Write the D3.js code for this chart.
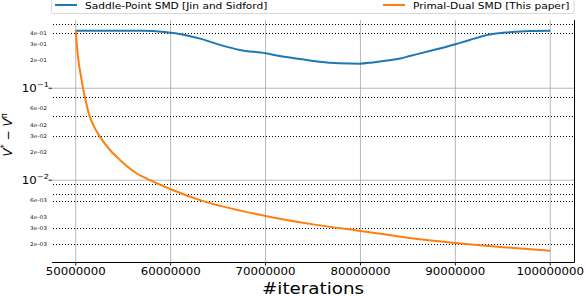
<!DOCTYPE html>
<html>
<head>
<meta charset="utf-8">
<script src="https://cdn.jsdelivr.net/npm/d3@7"></script>
<style>
  body { margin: 0; background: #fff; }
  svg { display: block; font-family: "DejaVu Sans", sans-serif; }
</style>
</head>
<body>
<div id="chart"></div>
<script>
// series
const saddleIter = [50e6, 57.1e6, 59.4e6, 60.5e6, 63.1e6, 65.2e6, 67.3e6, 70e6, 71.5e6, 73.6e6,
   75.7e6, 77.8e6, 79.9e6, 81.3e6, 82.8e6, 84.2e6, 85.2e6, 87.3e6, 90e6, 91.5e6, 93.6e6,
   95.7e6, 97.8e6, 100e6];
const saddleGap = [0.423, 0.423, 0.409, 0.396, 0.346, 0.296, 0.261, 0.240, 0.224, 0.208,
   0.194, 0.187, 0.185, 0.191, 0.200, 0.211, 0.224, 0.254, 0.301, 0.335, 0.383,
   0.406, 0.420, 0.423];

const primalIter = [50e6, 50.08e6, 50.19e6, 50.35e6, 50.56e6, 50.77e6, 50.98e6, 51.45e6, 51.93e6,
   52.56e6, 53.61e6, 54.66e6, 56.24e6, 57.82e6, 60e6, 63.1e6, 70e6, 75e6, 80e6,
   85e6, 90e6, 95e6, 100e6];
const primalGap = [0.423, 0.335, 0.242, 0.179, 0.133, 0.1, 0.0791, 0.05, 0.0383,
   0.0296, 0.0213, 0.0166, 0.0122, 0.01, 0.00798, 0.00607, 0.00409, 0.00331, 0.00281,
   0.00237, 0.00208, 0.00187, 0.00171];

const seriesNames = ['Saddle-Point SMD [Jin and Sidford]', 'Primal-Dual SMD [This paper]'];
const xTicks = [50e6, 60e6, 70e6, 80e6, 90e6, 100e6];
const yMajor = [0.1, 0.01];
const yMajorLabels = [['10', '\u22121'], ['10', '\u22122']];
const yMinor = [0.4, 0.3, 0.2, 0.06, 0.04, 0.03, 0.02, 0.006, 0.004, 0.003, 0.002];
const yMinorLabels = ['4e-01', '3e-01', '2e-01', '6e-02', '4e-02', '3e-02', '2e-02',
   '6e-03', '4e-03', '3e-03', '2e-03'];
const dottedLevels = [0.5, 0.4, 0.08, 0.05, 0.03, 0.009, 0.007, 0.006, 0.003, 0.002];

const W = 586, H = 296;
const L = 52, R = 574, T = 20, B = 262;
const SX = 1.18; // text in the picture is a bit wide

const svg = d3.select('#chart').append('svg')
   .attr('width', W)
   .attr('height', H);

const x = d3.scaleLinear().domain([47.5e6, 102.5e6]).range([L, R]);
const y = d3.scaleLog().domain([0.00129, 0.552]).range([B, T]);

function addText(g, x0, y0, size, anchor) {
   return g.append('text')
      .attr('transform', `translate(${x0},${y0}) scale(${SX},1)`)
      .attr('font-size', size)
      .attr('text-anchor', anchor || 'start')
      .attr('fill', '#000');
}

// grid
const grid = svg.append('g');
grid.selectAll('line.vx')
   .data(xTicks)
   .enter()
   .append('line')
   .attr('x1', d => x(d)).attr('x2', d => x(d))
   .attr('y1', T).attr('y2', B)
   .attr('stroke', '#b0b0b0').attr('stroke-width', 0.9);
grid.selectAll('line.hy')
   .data(yMajor)
   .enter()
   .append('line')
   .attr('x1', L).attr('x2', R)
   .attr('y1', d => y(d)).attr('y2', d => y(d))
   .attr('stroke', '#b0b0b0').attr('stroke-width', 0.9);
grid.selectAll('line.dot')
   .data(dottedLevels)
   .enter()
   .append('line')
   .attr('x1', L + 1).attr('x2', R - 1)
   .attr('y1', d => Math.round(y(d)) + 0.5).attr('y2', d => Math.round(y(d)) + 0.5)
   .attr('stroke', '#000').attr('stroke-width', 1)
   .attr('stroke-dasharray', '1,2');

// lines
const line = d3.line()
   .x(d => x(d[0]))
   .y(d => y(d[1]))
   .curve(d3.curveMonotoneX);

svg.append('path')
   .datum(saddleIter.map((v, i) => [v, saddleGap[i]]))
   .attr('d', line)
   .attr('fill', 'none')
   .attr('stroke', '#1f77b4')
   .attr('stroke-width', 2);

svg.append('path')
   .datum(primalIter.map((v, i) => [v, primalGap[i]]))
   .attr('d', line)
   .attr('fill', 'none')
   .attr('stroke', '#ff7f0e')
   .attr('stroke-width', 2);

// spines
svg.append('line').attr('x1', L).attr('x2', R + 0.5).attr('y1', B + 0.5).attr('y2', B + 0.5)
   .attr('stroke', '#000').attr('stroke-width', 1);
svg.append('line').attr('x1', R + 0.5).attr('x2', R + 0.5).attr('y1', T).attr('y2', B + 0.5)
   .attr('stroke', '#000').attr('stroke-width', 1);

// x ticks
const xt = svg.append('g');
xTicks.forEach(t => {
   xt.append('line').attr('x1', x(t)).attr('x2', x(t)).attr('y1', B).attr('y2', B + 3.5)
      .attr('stroke', '#000').attr('stroke-width', 0.9);
   addText(xt, x(t), 275, 10, 'middle').text(d3.format('d')(t));
});
addText(svg, (L + R) / 2, 293.5, 15.5, 'middle').text('#iterations');

// y ticks
const yt = svg.append('g');
yMajor.forEach((v, i) => {
   yt.append('line').attr('x1', L - 3.5).attr('x2', L).attr('y1', y(v)).attr('y2', y(v))
      .attr('stroke', '#000').attr('stroke-width', 0.9);
   const t = addText(yt, 49, y(v) + 3.7, 10, 'end');
   t.append('tspan').text(yMajorLabels[i][0]);
   t.append('tspan').attr('font-size', 7).attr('dy', -4.5).text(yMajorLabels[i][1]);
});
yMinor.forEach((v, i) => {
   addText(yt, 47, y(v) + 1.8, 5, 'end').attr('fill', '#222').text(yMinorLabels[i]);
});

// y title
const ylab = svg.append('text')
   .attr('transform', 'translate(12,135) rotate(-90)')
   .attr('text-anchor', 'middle')
   .attr('font-size', 12);
ylab.append('tspan').attr('font-style', 'italic').text('V');
ylab.append('tspan').attr('font-size', 8).attr('dy', -5).text('*');
ylab.append('tspan').attr('dy', 5).text(' \u2212 ');
ylab.append('tspan').attr('font-style', 'italic').text('V');
ylab.append('tspan').attr('font-size', 8).attr('dy', -5).text('\u03c0');

// legend
const leg = svg.append('g');
leg.append('rect')
   .attr('x', 51.5).attr('y', -10).attr('width', 522.5).attr('height', 23.5)
   .attr('rx', 2)
   .attr('fill', '#fff').attr('fill-opacity', 0.8)
   .attr('stroke', '#d8d8d8');
const legItems = [
   { name: seriesNames[0], color: '#1f77b4', x0: 55 },
   { name: seriesNames[1], color: '#ff7f0e', x0: 383 }
];
legItems.forEach(it => {
   leg.append('line').attr('x1', it.x0).attr('x2', it.x0 + 22).attr('y1', 5).attr('y2', 5)
      .attr('stroke', it.color).attr('stroke-width', 2);
   addText(leg, it.x0 + 30, 8.5, 9, 'start').text(it.name);
});
</script>
</body>
</html>
